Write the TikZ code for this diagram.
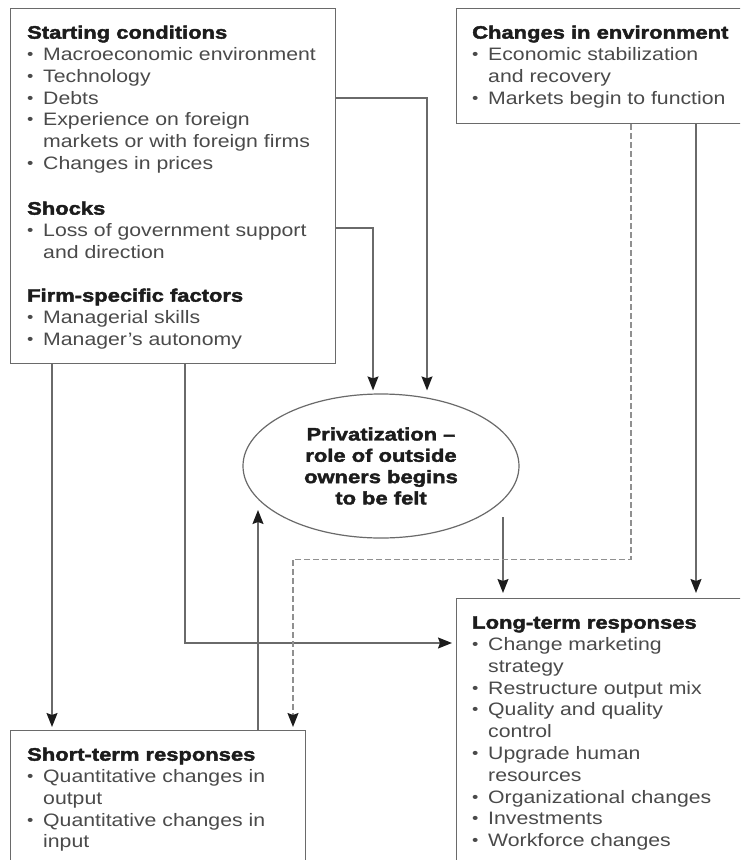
\documentclass[tikz,border=0pt]{standalone}
\usepackage{fontspec}
\usepackage{graphicx}
\setmainfont{Liberation Sans}[FakeStretch=1.18,BoldFeatures={FakeStretch=1.22,FakeBold=2.2}]
\usetikzlibrary{arrows.meta,calc,shapes.geometric}

\definecolor{inkbody}{HTML}{4A4A4A}
\definecolor{inkhead}{HTML}{1C1C1C}
\definecolor{rulegray}{HTML}{6A6A6A}
\definecolor{dashgray}{HTML}{909090}

% heading, bullet item and continuation line
\newcommand{\hd}[1]{\strut{\bfseries\color{inkhead}#1}}
\newcommand{\bl}{\makebox[16pt][l]{\raisebox{1pt}{\scalebox{0.85}{\textbullet}}}}
\newcommand{\cn}{\hspace*{16pt}}

\tikzset{
  panel/.style={draw=rulegray, line width=1.4pt, rectangle, inner sep=0pt, anchor=north west},
  panetext/.style={anchor=north west, inner sep=0pt, align=left, text=inkbody,
    font=\fontsize{18}{21.8}\selectfont},
  link/.style={draw=rulegray, line width=1.4pt,
    -{Stealth[length=14pt,width=11pt,inset=2pt,color=inkhead]}},
  dashlink/.style={link, draw=dashgray, line width=1.6pt, dash pattern=on 6pt off 3pt},
}

\begin{document}
\begin{tikzpicture}[x=1pt,y=-1pt]
\useasboundingbox (0,0) rectangle (740,860);
\clip (0,0) rectangle (740,860);
\fill[white] (0,0) rectangle (740,860);

% boxes
\node[panel, minimum width=325pt, minimum height=355pt] (start) at (10,8) {};
\node[panel, minimum width=330pt, minimum height=115pt] (env) at (456,8) {};
\node[panel, minimum width=330pt, minimum height=300pt] (long) at (456,598) {};
\node[panel, minimum width=295pt, minimum height=160pt] (short) at (10,730) {};

\node[ellipse, draw=rulegray, line width=1.2pt, minimum width=276pt, minimum height=144pt,
  inner sep=0pt, align=center, text=inkhead,
  font=\fontsize{18}{21.3}\selectfont\bfseries] (priv) at (381,466)
  {Privatization --\\role of outside\\owners begins\\to be felt};

% box texts
\node[panetext] (starttext) at (27,23.2) {%
  \hd{Starting conditions}\\
  \bl Macroeconomic environment\\
  \bl Technology\\
  \bl Debts\\
  \bl Experience on foreign\\
  \cn markets or with foreign firms\\
  \bl Changes in prices\\[23.4pt]
  \hd{Shocks}\\
  \bl Loss of government support\\
  \cn and direction\\[21.6pt]
  \hd{Firm-specific factors}\\
  \bl Managerial skills\\
  \bl Manager's autonomy};

\node[panetext] (envtext) at (472,23.2) {%
  \hd{Changes in environment}\\
  \bl Economic stabilization\\
  \cn and recovery\\
  \bl Markets begin to function};

\node[panetext] (longtext) at (472,613.2) {%
  \hd{Long-term responses}\\
  \bl Change marketing\\
  \cn strategy\\
  \bl Restructure output mix\\
  \bl Quality and quality\\
  \cn control\\
  \bl Upgrade human\\
  \cn resources\\
  \bl Organizational changes\\
  \bl Investments\\
  \bl Workforce changes};

\node[panetext] (shorttext) at (27,745.2) {%
  \hd{Short-term responses}\\
  \bl Quantitative changes in\\
  \cn output\\
  \bl Quantitative changes in\\
  \cn input};

% connectors
\draw[link] ($(start.north east)+(0,90)$) -| ($(priv.north)+(46,-3)$);
\draw[link] ($(start.north east)+(0,220)$) -| ($(priv.north)+(-8,-3)$);
\draw[link] ($(start.south west)+(42,0)$) -- ($(short.north west)+(42,-3)$);
\draw[link] ($(start.south west)+(175,0)$) |- ($(long.north west)+(-4,45)$);
\draw[link] ($(short.north west)+(248,0)$) -- ($(priv.center)+(-123,44)$);
\draw[link] ($(priv.center)+(122,51)$) -- ($(long.north west)+(47,-5)$);
\draw[link] ($(env.south west)+(240,0)$) -- ($(long.north west)+(240,-5)$);
\draw[dashlink] ($(env.south west)+(175,0)$) -- ++(0,435) -| ($(short.north west)+(283,-3)$);
\end{tikzpicture}
\end{document}
